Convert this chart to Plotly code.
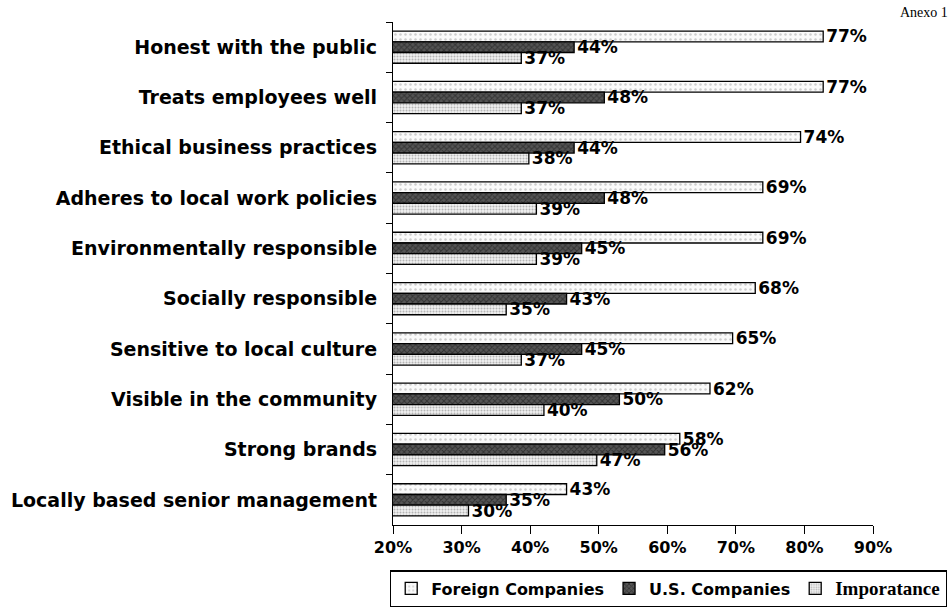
import plotly.graph_objects as go

categories = [
    "Honest with the public",
    "Treats employees well",
    "Ethical business practices",
    "Adheres to local work policies",
    "Environmentally responsible",
    "Socially responsible",
    "Sensitive to local culture",
    "Visible in the community",
    "Strong brands",
    "Locally based senior management",
]
foreign = [77, 77, 74, 69, 69, 68, 65, 62, 58, 43]
us = [44, 48, 44, 48, 45, 43, 45, 50, 56, 35]
importance = [37, 37, 38, 39, 39, 35, 37, 40, 47, 30]
# axis labels as printed in the reference (evenly spaced along the axis)
tick_labels = ["20%", "30%", "40%", "50%", "60%", "70%", "80%", "90%"]
x_min, x_max = 20, 83.6   # visible extent of the value axis as the bars show it

FONT = "DejaVu Sans"

def bar(name, vals, bg, fg, shape, size, solidity):
    return go.Bar(
        name=name, y=categories, x=vals, orientation="h",
        text=[f"{v}%" for v in vals], textposition="outside",
        constraintext="none",
        textfont=dict(family=FONT, size=17, color="black", weight="bold"),
        cliponaxis=False,
        marker=dict(color=bg, line=dict(color="black", width=1.3),
                    pattern=dict(shape=shape, fgcolor=fg, bgcolor=bg,
                                 size=size, solidity=solidity)),
    )

fig = go.Figure([
    bar("Foreign Companies", foreign, "#fafafa", "#a0a0a0", ".", 5, 0.2),
    bar("U.S. Companies", us, "#555555", "#111111", "x", 4, 0.45),
    bar('<span style="font-family:Liberation Serif;font-size:19px;font-weight:bold">'
        'Imporatance</span>',
        importance, "#f0f0f0", "#7a7a7a", ".", 3, 0.35),
])

n = len(tick_labels)
tick_pos = [x_min + i * (x_max - x_min) / (n - 1) for i in range(n)]

fig.update_layout(
    width=952, height=610,
    margin=dict(l=393, r=79, t=22, b=85, autoexpand=False),
    paper_bgcolor="white", plot_bgcolor="white",
    barmode="group", bargap=0.36, bargroupgap=0,
    font=dict(family=FONT, size=16, color="black"),
    showlegend=True,
    legend=dict(orientation="h", x=1.154, xanchor="right", y=-0.09, yanchor="top",
                bordercolor="black", borderwidth=1.3,
                font=dict(family=FONT, size=16, weight="bold"),
                itemwidth=30, tracegroupgap=0),
)
fig.update_xaxes(range=[x_min, x_max], tickvals=tick_pos, ticktext=tick_labels,
                 showgrid=False, zeroline=False, showline=True, linecolor="black",
                 linewidth=1.3, ticks="outside", ticklen=8, tickcolor="black",
                 tickfont=dict(family=FONT, size=16, weight="bold"))
fig.update_yaxes(autorange="reversed", showgrid=False, showline=True,
                 linecolor="black", linewidth=1.3, ticks="outside", ticklen=6,
                 tickson="boundaries", tickcolor="black", ticklabelstandoff=11,
                 tickfont=dict(family=FONT, size=19, weight="bold"))
fig.add_annotation(text="Anexo 1", xref="paper", yref="paper", x=1.16, y=1.0,
                   xanchor="right", yanchor="bottom", showarrow=False,
                   font=dict(family="Liberation Serif", size=14, color="black"))
fig.write_html("out.html", config={"displayModeBar": False},
               post_script="document.body.style.margin='0';")
